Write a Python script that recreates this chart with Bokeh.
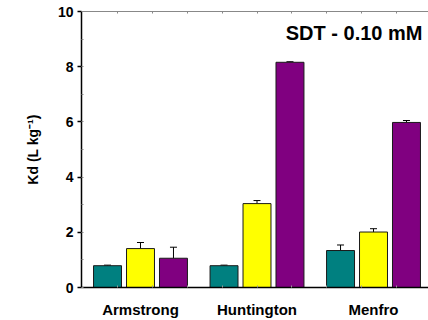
import numpy as np
from bokeh.plotting import figure
from bokeh.models import (ColumnDataSource, Range1d, LinearAxis, FixedTicker,
                          SingleIntervalTicker, Whisker, TeeHead, Label)
from bokeh.embed import file_html
from bokeh.resources import INLINE

sites = ["Armstrong", "Huntington", "Menfro"]
teal_vals = [0.79, 0.79, 1.34]
teal_err = [0.02, 0.02, 0.20]
yellow_vals = [1.41, 3.04, 2.01]
yellow_err = [0.22, 0.11, 0.12]
purple_vals = [1.06, 8.16, 5.98]
purple_err = [0.40, 0.02, 0.07]
title_text = "SDT - 0.10 mM"
y_label = "Kd (L kg\u207b\u00b9)"

FONT = "Liberation Sans"
centers = np.arange(1, len(sites) + 1)
offset = 0.283
bw = 0.24

p = figure(width=428, height=320, output_backend="svg", toolbar_location=None,
           x_range=Range1d(0.4936, 3.472), y_range=Range1d(0, 10),
           min_border_left=81, min_border_right=0, min_border_top=11,
           min_border_bottom=32, x_axis_location=None, y_axis_location=None)
p.grid.visible = False
p.outline_line_color = None
p.background_fill_color = "white"
p.border_fill_color = "white"

series = [(teal_vals, teal_err, "#008080", -offset),
          (yellow_vals, yellow_err, "#FFFF00", 0.0),
          (purple_vals, purple_err, "#800080", offset)]
for vals, errs, col, off in series:
    xs = centers + off
    src = ColumnDataSource(dict(x=xs, top=vals,
                                upper=np.array(vals) + np.array(errs)))
    p.vbar(x="x", top="top", width=bw, source=src, fill_color=col,
           line_color="#1a1a1a", line_width=1)
    p.add_layout(Whisker(source=src, base="x", lower="top", upper="upper",
                         line_color="black", line_width=1,
                         lower_head=None,
                         upper_head=TeeHead(size=7, line_color="black", line_width=1)))

# left axis
yax = LinearAxis(ticker=SingleIntervalTicker(interval=2, num_minor_ticks=2))
yax.axis_line_color = "black"
yax.axis_line_width = 1.5
yax.major_tick_out = 4
yax.major_tick_in = 0
yax.major_tick_line_width = 1.5
yax.major_tick_line_color = "black"
yax.minor_tick_in = 2
yax.minor_tick_out = 0
yax.minor_tick_line_color = "#888888"
yax.major_label_text_font = FONT
yax.major_label_text_font_style = "bold"
yax.major_label_text_font_size = "14px"
yax.major_label_text_color = "black"
yax.major_label_standoff = 4
yax.axis_label = y_label
yax.axis_label_text_font = FONT
yax.axis_label_text_font_style = "bold"
yax.axis_label_text_font_size = "14px"
yax.axis_label_text_color = "black"
yax.axis_label_standoff = 14
p.add_layout(yax, "left")

# bottom axis with category labels
minor_x = [0.8 + 0.3 * k for k in range(10)]
xax = LinearAxis(ticker=FixedTicker(ticks=list(centers), minor_ticks=minor_x))
xax.major_label_overrides = {int(c): s for c, s in zip(centers, sites)}
xax.axis_line_color = "black"
xax.axis_line_width = 1.5
xax.major_tick_in = 0
xax.major_tick_out = 0
xax.minor_tick_in = 2
xax.minor_tick_out = 0
xax.minor_tick_line_color = "#999999"
xax.major_label_text_font = FONT
xax.major_label_text_font_style = "bold"
xax.major_label_text_font_size = "15px"
xax.major_label_text_color = "black"
xax.major_label_standoff = 13
p.add_layout(xax, "below")

# top axis: gray line with small inward ticks, no labels
tax = LinearAxis(ticker=FixedTicker(ticks=[], minor_ticks=minor_x))
tax.axis_line_color = "#888888"
tax.axis_line_width = 1
tax.major_tick_line_color = None
tax.minor_tick_in = 2
tax.minor_tick_out = 0
tax.minor_tick_line_color = "#888888"
p.add_layout(tax, "above")

# title
p.add_layout(Label(x=3.42, y=9.206, text=title_text, text_align="right",
                   text_baseline="alphabetic", text_font=FONT,
                   text_font_style="bold", text_font_size="20px",
                   text_color="black"))

open("out.html", "w").write(file_html(p, INLINE))
